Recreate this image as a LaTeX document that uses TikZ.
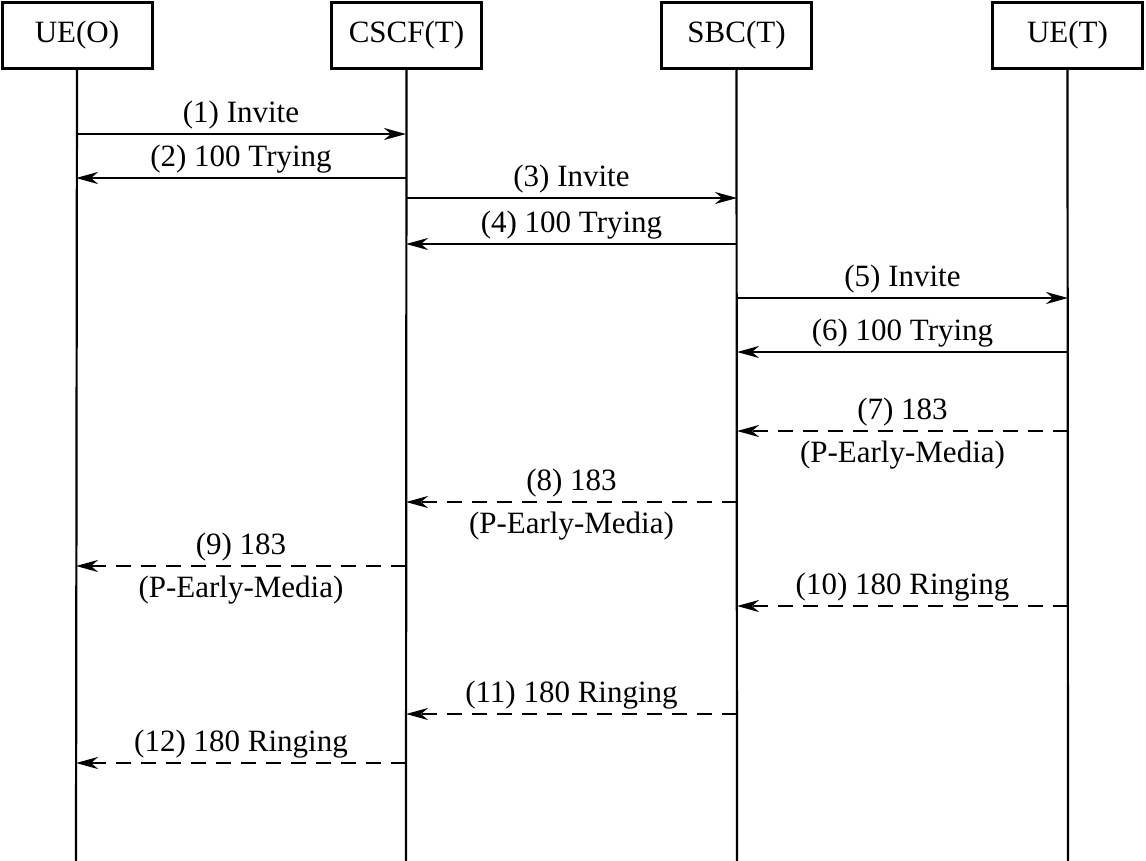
\documentclass[tikz,border=0pt]{standalone}
\usepackage{fontspec}
\setmainfont{Liberation Serif}
\usetikzlibrary{arrows.meta}
\begin{document}
\begin{tikzpicture}[x=1pt,y=-1pt,
 ent/.style={draw,line width=3pt,minimum width=150pt,minimum height=66pt,inner sep=0pt,font=\fontsize{31}{37}\selectfont},
 life/.style={line width=2.2pt},
 msg/.style={line width=2.2pt,-{Stealth[length=22pt,width=12pt,inset=7pt]}},
 rep/.style={msg,dash pattern=on 15pt off 10pt},
 lbl/.style={font=\fontsize{31}{37}\selectfont,anchor=base,inner sep=0pt,yshift=12pt},
 lblb/.style={font=\fontsize{31}{37}\selectfont,anchor=base,inner sep=0pt,yshift=-31pt}]
\useasboundingbox (0,0) rectangle (1146,860);
\node[ent] (uo) at (77,35) {UE(O)};
\node[ent] (cs) at (406.5,35) {CSCF(T)};
\node[ent] (sb) at (736.5,35) {SBC(T)};
\node[ent] (ut) at (1067.5,35) {UE(T)};
\coordinate (uoE) at (76,862);
\coordinate (csE) at (406,862);
\coordinate (sbE) at (737,862);
\coordinate (utE) at (1068,862);
\draw[life] (uo.south) -- (uoE);
\draw[life] (cs.south) -- (csE);
\draw[life] (sb.south) -- (sbE);
\draw[life] (ut.south) -- (utE);
\foreach \n/\y in {1/134,2/178,3/198,4/244,5/298,6/352,7/431,8/502,9/566,10/606,11/714,12/763}{
  \coordinate (uo\n) at (76,\y);
  \coordinate (cs\n) at (406,\y);
  \coordinate (sb\n) at (737,\y);
  \coordinate (ut\n) at (1068,\y);
}
\draw[msg] (uo1) -- node[lbl]{(1) Invite} (cs1);
\draw[msg] (cs2) -- node[lbl]{(2) 100 Trying} (uo2);
\draw[msg] (cs3) -- node[lbl]{(3) Invite} (sb3);
\draw[msg] (sb4) -- node[lbl]{(4) 100 Trying} (cs4);
\draw[msg] (sb5) -- node[lbl]{(5) Invite} (ut5);
\draw[msg] (ut6) -- node[lbl]{(6) 100 Trying} (sb6);
\draw[rep] (ut7) -- node[lbl]{(7) 183} node[lblb]{(P-Early-Media)} (sb7);
\draw[rep] (sb8) -- node[lbl]{(8) 183} node[lblb]{(P-Early-Media)} (cs8);
\draw[rep] (cs9) -- node[lbl]{(9) 183} node[lblb]{(P-Early-Media)} (uo9);
\draw[rep] (ut10) -- node[lbl]{(10) 180 Ringing} (sb10);
\draw[rep] (sb11) -- node[lbl]{(11) 180 Ringing} (cs11);
\draw[rep] (cs12) -- node[lbl]{(12) 180 Ringing} (uo12);
\end{tikzpicture}
\end{document}
